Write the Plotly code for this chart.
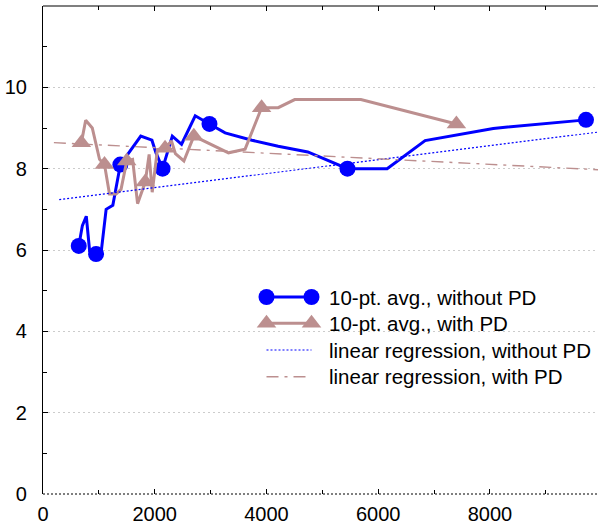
import plotly.graph_objects as go

# ---- data ----
no_pd_x = [640, 705, 775, 835, 950, 1040, 1130, 1250, 1385, 1545, 1750, 1950, 2020, 2140,
           2315, 2480, 2725, 2980, 3260, 3740, 4210, 4740, 5450, 6160, 6840, 8060, 9720]
no_pd_y = [6.1, 6.6, 6.83, 5.97, 5.9, 5.93, 7.0, 7.1, 8.1, 8.4, 8.8, 8.7, 8.4, 8.0,
           8.8, 8.6, 9.3, 9.1, 8.88, 8.7, 8.55, 8.41, 8.0, 8.0, 8.69, 8.99, 9.2]
no_pd_marked = [0, 4, 8, 13, 17, 22, 26]

pd_x = [687, 764, 882, 1012, 1101, 1190, 1309, 1397, 1500, 1604, 1693, 1830, 1900, 1955,
        2048, 2185, 2300, 2370, 2522, 2700, 3320, 3618, 3913, 4210, 4506, 5690, 7400]
pd_y = [8.64, 9.19, 9.0, 8.23, 8.1, 7.38, 7.38, 7.49, 8.19, 8.23, 7.14, 7.67, 8.35, 7.42,
        8.47, 8.5, 8.68, 8.37, 8.19, 8.8, 8.39, 8.48, 9.5, 9.5, 9.7, 9.7, 9.1]
pd_marked = [0, 4, 8, 11, 15, 19, 22, 26]

reg_no_pd_x = [290, 10000]
reg_no_pd_y = [7.24, 8.91]
reg_pd_x = [195, 10000]
reg_pd_y = [8.64, 7.97]

legend_labels = ["10-pt. avg., without PD", "10-pt. avg., with PD",
                 "linear regression, without PD", "linear regression, with PD"]

x_major = [0, 2000, 4000, 6000, 8000]
x_minor = [1000, 3000, 5000, 7000, 9000]
y_major = [0, 2, 4, 6, 8, 10]
y_minor = [1, 3, 5, 7, 9, 11]

# ---- styles ----
BLUE = "#0000ff"
BROWN = "#bc8f8f"
FONT = "Liberation Sans, Arial, sans-serif"
CIRCLE = dict(color=BLUE, size=16, symbol="circle")
TRIANGLE = dict(color=BROWN, size=17, symbol="triangle-up")

fig = go.Figure()

# main series
fig.add_trace(go.Scatter(x=no_pd_x, y=no_pd_y, mode="lines",
                         line=dict(color=BLUE, width=3), showlegend=False))
fig.add_trace(go.Scatter(x=[no_pd_x[i] for i in no_pd_marked], y=[no_pd_y[i] for i in no_pd_marked],
                         mode="markers", marker=CIRCLE, showlegend=False))
fig.add_trace(go.Scatter(x=pd_x, y=pd_y, mode="lines",
                         line=dict(color=BROWN, width=3), showlegend=False))
fig.add_trace(go.Scatter(x=[pd_x[i] for i in pd_marked], y=[pd_y[i] for i in pd_marked],
                         mode="markers", marker=TRIANGLE, showlegend=False))
fig.add_trace(go.Scatter(x=reg_no_pd_x, y=reg_no_pd_y, mode="lines",
                         line=dict(color=BLUE, width=1.2, dash="2px,2px"), showlegend=False))
fig.add_trace(go.Scatter(x=reg_pd_x, y=reg_pd_y, mode="lines",
                         line=dict(color=BROWN, width=1.4, dash="12px,6px,3px,6px"), showlegend=False))

# ---- custom legend (gnuplot style) on an overlay paper-like axis ----
L, R, T, B = 43, 0, 6, 32
W, H = 598, 526
pw, ph = W - L - R, H - T - B
def px(xp):
    return (xp - L) / pw
def py(yp):
    return (H - B - yp) / ph

rows = [297, 323.3, 350, 376.7]
sx0, sx1 = px(266.5), px(311.5)
styles = [
    dict(line=dict(color=BLUE, width=3), marker=CIRCLE, mode="lines+markers"),
    dict(line=dict(color=BROWN, width=3), marker=TRIANGLE, mode="lines+markers"),
    dict(line=dict(color=BLUE, width=1.2, dash="2px,2px"), mode="lines"),
    dict(line=dict(color=BROWN, width=1.4, dash="12px,6px,3px,6px"), mode="lines"),
]
for r, st, lab in zip(rows, styles, legend_labels):
    fig.add_trace(go.Scatter(x=[sx0, sx1], y=[py(r), py(r)], xaxis="x2", yaxis="y2",
                             showlegend=False, hoverinfo="skip", **st))
    fig.add_annotation(x=px(327), y=py(r), xref="paper", yref="paper", text=lab,
                       showarrow=False, xanchor="left", yanchor="middle",
                       font=dict(family=FONT, size=20.5, color="black"))

# legend background box hides grid behind it
fig.add_shape(type="rect", xref="paper", yref="paper", x0=px(257), x1=1.0, y0=py(390), y1=py(284),
              fillcolor="white", line=dict(width=0), layer="between")
# top border (solid) and bottom zero axis (dotted)
fig.add_shape(type="line", xref="paper", yref="paper", x0=0, x1=1, y0=1, y1=1,
              line=dict(color="black", width=1.2), layer="above")
fig.add_shape(type="line", xref="paper", yref="paper", x0=0, x1=1, y0=0, y1=0,
              line=dict(color="black", width=1.2, dash="2px,2px"), layer="above")

fig.update_layout(
    width=W, height=H,
    margin=dict(l=L, r=R, t=T, b=B, pad=0),
    paper_bgcolor="white", plot_bgcolor="white",
    font=dict(family=FONT, size=20, color="black"),
    showlegend=False,
    xaxis=dict(range=[0, 9935], tickvals=x_major, ticktext=[str(v) for v in x_major],
               ticks="inside", ticklen=5, tickcolor="black", tickwidth=1,
               minor=dict(tickvals=x_minor, ticks="inside", ticklen=4, tickcolor="black", showgrid=False),
               showline=False, mirror="ticks", showgrid=False, zeroline=False,
               ticklabelstandoff=6, tickfont=dict(family=FONT, size=20, color="black")),
    yaxis=dict(range=[0, 12], tickvals=y_major, ticktext=[str(v) for v in y_major],
               ticks="inside", ticklen=5, tickcolor="black", tickwidth=1,
               minor=dict(tickvals=y_minor, ticks="inside", ticklen=4, tickcolor="black", showgrid=False),
               showline=True, linecolor="black", linewidth=1.2, mirror=False,
               showgrid=True, gridcolor="#cccccc", griddash="2px,3px", gridwidth=1,
               zeroline=False, ticklabelstandoff=11,
               tickfont=dict(family=FONT, size=20, color="black")),
    xaxis2=dict(overlaying="x", range=[0, 1], visible=False, fixedrange=True),
    yaxis2=dict(overlaying="y", range=[0, 1], visible=False, fixedrange=True),
)

fig.write_html("out.html", config={"displayModeBar": False},
               post_script="document.body.style.margin='0';document.body.style.overflow='hidden';")
